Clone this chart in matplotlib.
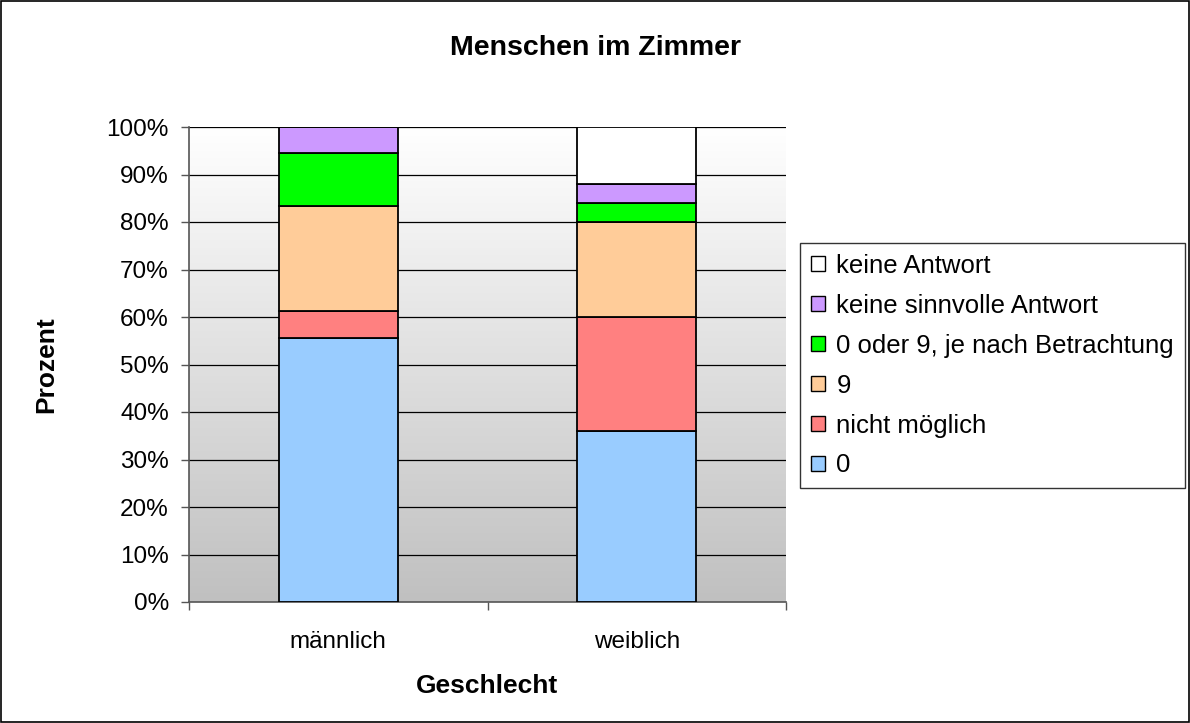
import matplotlib
matplotlib.use("Agg")
import matplotlib.pyplot as plt
import numpy as np
from matplotlib.patches import Rectangle

plt.rcParams['font.family'] = ['Liberation Sans', 'DejaVu Sans']

categories = ["männlich", "weiblich"]
series_names = ["0", "nicht möglich", "9", "0 oder 9, je nach Betrachtung",
                "keine sinnvolle Antwort", "keine Antwort"]
v_null = [55.6, 36.0]
v_nicht = [5.6, 24.0]
v_neun = [22.2, 20.0]
v_beides = [11.1, 4.0]
v_sinnlos = [5.5, 4.0]
v_keine = [0.0, 12.0]
colors = ["#99ccff", "#ff8080", "#ffcc99", "#00ff00", "#cc99ff", "#ffffff"]
yticks = list(range(0, 101, 10))

fig = plt.figure(figsize=(11.9, 7.23), dpi=100)
fig.patch.set_facecolor("white")
fig.add_artist(Rectangle((0.0008, 0.0014), 0.9984, 0.997, transform=fig.transFigure,
                         fill=False, edgecolor="black", linewidth=1.2))

ax = fig.add_axes([189/1190, 1-602/723, (786-189)/1190, (602-127)/723])
ax.set_xlim(0, 2)
ax.set_ylim(0, 100)

grad = np.linspace(1.0, 0.0, 256).reshape(-1, 1)
top = np.array([1.0, 1.0, 1.0])
bot = np.array([192, 192, 192]) / 255
img = top * grad[..., None] + bot * (1 - grad[..., None])
ax.imshow(img, extent=[0, 2, 0, 100], aspect="auto", zorder=0, origin="upper")

for y in yticks[1:]:
    ax.axhline(y, color="black", linewidth=0.9, zorder=1)

x = np.arange(len(categories)) + 0.5
bottom = np.zeros(len(categories))
series = [v_null, v_nicht, v_neun, v_beides, v_sinnlos, v_keine]
handles = []
for name, vals, c in zip(series_names, series, colors):
    vals = np.array(vals)
    b = ax.bar(x, vals, width=0.4, bottom=bottom, color=c, edgecolor="black",
               linewidth=1.3, zorder=3, label=name)
    handles.append(b)
    bottom += vals

ax.set_yticks(yticks)
ax.set_yticklabels([f"{t}%" for t in yticks], fontsize=17.5)
ax.set_xticks([0, 1, 2])
ax.set_xticklabels([])
ax.set_xticks(x, minor=True)
ax.set_xticklabels(categories, minor=True, fontsize=17.5)
ax.tick_params(axis="x", which="minor", length=0, pad=21)
ax.tick_params(axis="x", which="major", length=6, width=1, color="#555555")
ax.tick_params(axis="y", length=6, width=1, color="#555555", pad=8.5)

for s in ["top", "right"]:
    ax.spines[s].set_visible(False)
ax.spines["left"].set_color("#555555")
ax.spines["bottom"].set_color("#555555")
ax.spines["left"].set_linewidth(1.2)
ax.spines["bottom"].set_linewidth(1.2)

fig.text(46/1190, 1-365/723, "Prozent", rotation=90, ha="center", va="center",
         fontsize=19, fontweight="bold")
fig.text(487/1190, 1-686/723, "Geschlecht", ha="center", va="center",
         fontsize=19, fontweight="bold")
fig.text(0.5, 1-48/723, "Menschen im Zimmer", ha="center", va="center",
         fontsize=20.5, fontweight="bold")

leg = fig.legend(handles[::-1], series_names[::-1], loc="upper left",
                 bbox_to_anchor=(800/1190, 1-243/723), fontsize=18.5,
                 frameon=True, fancybox=False, edgecolor="black",
                 handlelength=0.55, handleheight=0.55, handletextpad=0.45,
                 labelspacing=0.62, borderpad=0.42, borderaxespad=0)
leg.get_frame().set_linewidth(1.0)
for h in leg.legend_handles:
    h.set_linewidth(1.0)

fig.savefig("out.png", dpi=100)
